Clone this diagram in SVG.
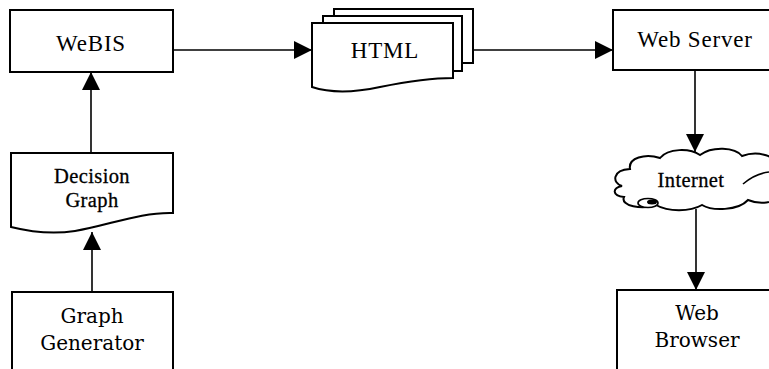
<svg xmlns="http://www.w3.org/2000/svg" width="769" height="369" viewBox="0 0 769 369">
<style>
.box{fill:#fff;stroke:#000;stroke-width:2}
.ln{fill:none;stroke:#000;stroke-width:1.6}
.t{font-family:"Liberation Serif","Times New Roman",serif;font-size:23px;fill:#000;text-anchor:middle;letter-spacing:0.8px}
.tb{font-family:"Liberation Serif","Times New Roman",serif;font-size:20.5px;fill:#000;text-anchor:middle;letter-spacing:0.4px;stroke:#000;stroke-width:0.3}
.k{font-family:"DejaVu Serif",serif;font-size:20px;fill:#000;text-anchor:middle}
</style>
<defs>
<marker id="ah" markerWidth="18" markerHeight="18" refX="18" refY="9" orient="auto" markerUnits="userSpaceOnUse">
<path d="M0,0 L18,9 L0,18 Z" fill="#000"/>
</marker>
</defs>
<g id="connectors">
<line class="ln" x1="173" y1="50" x2="312" y2="50" marker-end="url(#ah)"/>
<line class="ln" x1="474" y1="50" x2="613" y2="50" marker-end="url(#ah)"/>
<line class="ln" x1="91" y1="153" x2="91" y2="72" marker-end="url(#ah)"/>
<line class="ln" x1="92" y1="292" x2="92" y2="232" marker-end="url(#ah)"/>
<line class="ln" x1="695" y1="70" x2="695" y2="152" marker-end="url(#ah)"/>
<line class="ln" x1="696" y1="209" x2="696" y2="290" marker-end="url(#ah)"/>
</g>
<g id="webis">
<rect class="box" x="10" y="10" width="163" height="62"/>
<text class="t" x="91" y="51">WeBIS</text>
</g>
<g id="html">
<path class="box" d="M334,16 V9 H473 V63 H462"/>
<path class="box" d="M323,23 V16 H462 V71 H453"/>
<path class="box" d="M312,87 C330,93 352,93 380,87 C410,81 430,78 453,78 V23 H312 Z"/>
<text class="t" x="385" y="58">HTML</text>
</g>
<g id="webserver">
<rect class="box" x="613" y="10" width="180" height="60"/>
<text class="t" x="695" y="47">Web Server</text>
</g>
<g id="decision">
<path class="box" d="M11,227 C35,233 55,234 75,231 C110,225 140,212 173,213 V153 H11 Z"/>
<text class="tb" x="92" y="183">Decision</text>
<text class="tb" x="92" y="207">Graph</text>
</g>
<g id="generator">
<rect class="box" x="12" y="292" width="161" height="90"/>
<text class="k" x="92" y="323">Graph</text>
<text class="k" x="92" y="350">Generator</text>
</g>
<g id="internet">
<path class="box" d="M622,186 C612,183 612,170 630,169 C628,158 645,153 660,158 C668,148 690,148 700,155 C712,146 735,147 742,156 C758,150 778,156 778,168 L778,196 C775,203 760,205 748,200 C738,211 712,211 702,205 C690,212 668,212 656,205 C642,210 620,206 624,197 C612,196 612,188 622,186 Z"/>
<path class="ln" d="M743,184 C750,178 760,173 769,172"/>
<ellipse cx="648" cy="203" rx="10" ry="4.5" fill="#fff" stroke="#000" stroke-width="1.6"/>
<ellipse cx="652" cy="202" rx="5" ry="2.5" fill="#000"/>
<text class="tb" x="691" y="187">Internet</text>
</g>
<g id="browser">
<rect class="box" x="617" y="290" width="180" height="90"/>
<text class="k" x="697" y="320">Web</text>
<text class="k" x="697" y="347">Browser</text>
</g>
</svg>
